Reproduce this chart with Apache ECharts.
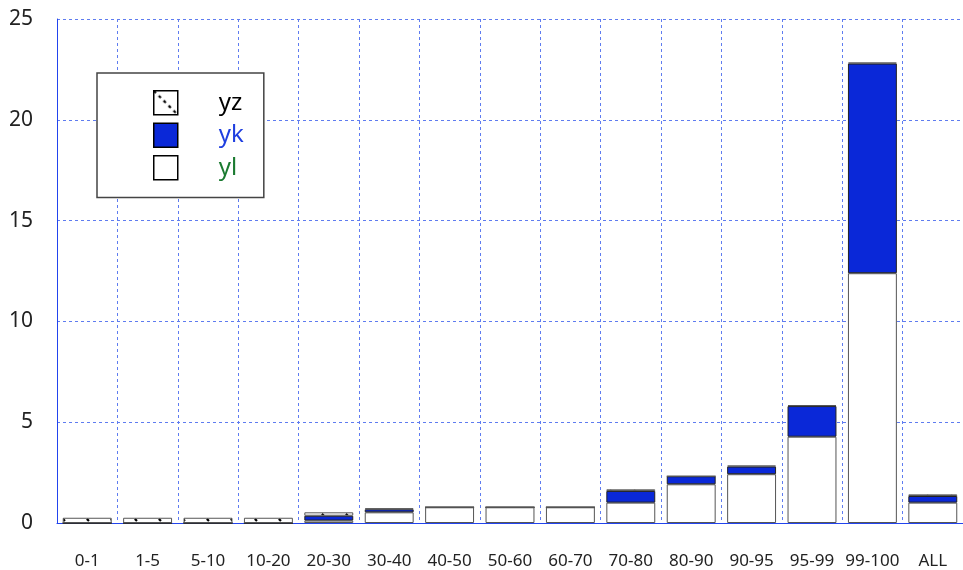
<!DOCTYPE html>
<html>
<head>
<meta charset="utf-8">
<script src="https://cdn.jsdelivr.net/npm/echarts@6/dist/echarts.min.js"></script>
<style>
  html, body { margin: 0; padding: 0; background: #fff; }
  #chart { width: 963px; height: 570px; }
</style>
</head>
<body>
<div id="chart"></div>
<script>
const categories = ['0-1', '1-5', '5-10', '10-20', '20-30', '30-40', '40-50', '50-60', '60-70', '70-80', '80-90', '90-95', '95-99', '99-100', 'ALL']
const yl = [0, 0, 0, 0, 0.12, 0.53, 0.78, 0.78, 0.78, 1.01, 1.92, 2.42, 4.28, 12.39, 1.01]
const yk = [0, 0, 0, 0, 0.24, 0.15, 0, 0, 0, 0.58, 0.40, 0.38, 1.52, 10.40, 0.33]
const yz = [0.26, 0.26, 0.26, 0.26, 0.17, 0.05, 0, 0, 0, 0.08, 0, 0.05, 0.05, 0.05, 0.08]

// hatch pattern for yz (dotted diagonal)
function hatch() {
  const c = document.createElement('canvas')
  c.width = 24
  c.height = 24
  const ctx = c.getContext('2d')
  ctx.fillStyle = '#fff'
  ctx.fillRect(0, 0, 24, 24)
  ctx.strokeStyle = '#000'
  ctx.lineWidth = 2.2
  ctx.setLineDash([3, 4])
  ctx.beginPath()
  ctx.moveTo(0, 0)
  ctx.lineTo(24, 24)
  ctx.stroke()
  return c
}

const chart = echarts.init(document.getElementById('chart'))
const gridColor = '#5f7cf0'
const barStyle = { borderColor: '#555', borderWidth: 1 }

chart.setOption({
  animation: false,
  grid: { left: 57, right: 0, top: 19, bottom: 47 },
  legend: {
    orient: 'vertical',
    left: 97,
    top: 73,
    padding: [17, 20, 17, 56],
    icon: 'rect',
    itemWidth: 24,
    itemHeight: 24,
    itemGap: 7,
    backgroundColor: '#fff',
    borderColor: '#444',
    borderWidth: 1.5,
    itemStyle: { borderColor: '#000', borderWidth: 1.5 },
    textStyle: { fontSize: 24, fontFamily: 'Noto Sans', padding: [0, 0, 0, 36] },
    data: [
      { name: 'yz', textStyle: { color: '#000' } },
      { name: 'yk', textStyle: { color: '#1f3fe0' } },
      { name: 'yl', textStyle: { color: '#1a7a30' } }
    ]
  },
  xAxis: {
    type: 'category',
    data: categories,
    axisLine: { lineStyle: { color: '#2244ee', width: 1 } },
    axisTick: { show: false },
    axisLabel: { color: '#222', fontSize: 17, fontFamily: 'Noto Sans', margin: 30, interval: 0 },
    splitLine: { show: true, interval: 0, lineStyle: { color: gridColor, type: [3, 3], width: 1 } }
  },
  yAxis: {
    type: 'value',
    min: 0,
    max: 25,
    interval: 5,
    axisLine: { show: true, lineStyle: { color: '#2244ee', width: 1 } },
    axisTick: { show: false },
    axisLabel: { color: '#222', fontSize: 21, fontFamily: 'Noto Sans', margin: 24 },
    splitLine: { show: true, lineStyle: { color: gridColor, type: [3, 3], width: 1 } }
  },
  series: [
    {
      name: 'yl', type: 'bar', stack: 'a', data: yl, barCategoryGap: '19%',
      itemStyle: Object.assign({ color: '#fff' }, barStyle)
    },
    {
      name: 'yk', type: 'bar', stack: 'a', data: yk,
      itemStyle: Object.assign({ color: '#0a28d8' }, barStyle, { borderColor: '#222' })
    },
    {
      name: 'yz', type: 'bar', stack: 'a', data: yz,
      itemStyle: Object.assign({ color: { image: hatch(), repeat: 'repeat' } }, barStyle)
    }
  ]
})
</script>
</body>
</html>
